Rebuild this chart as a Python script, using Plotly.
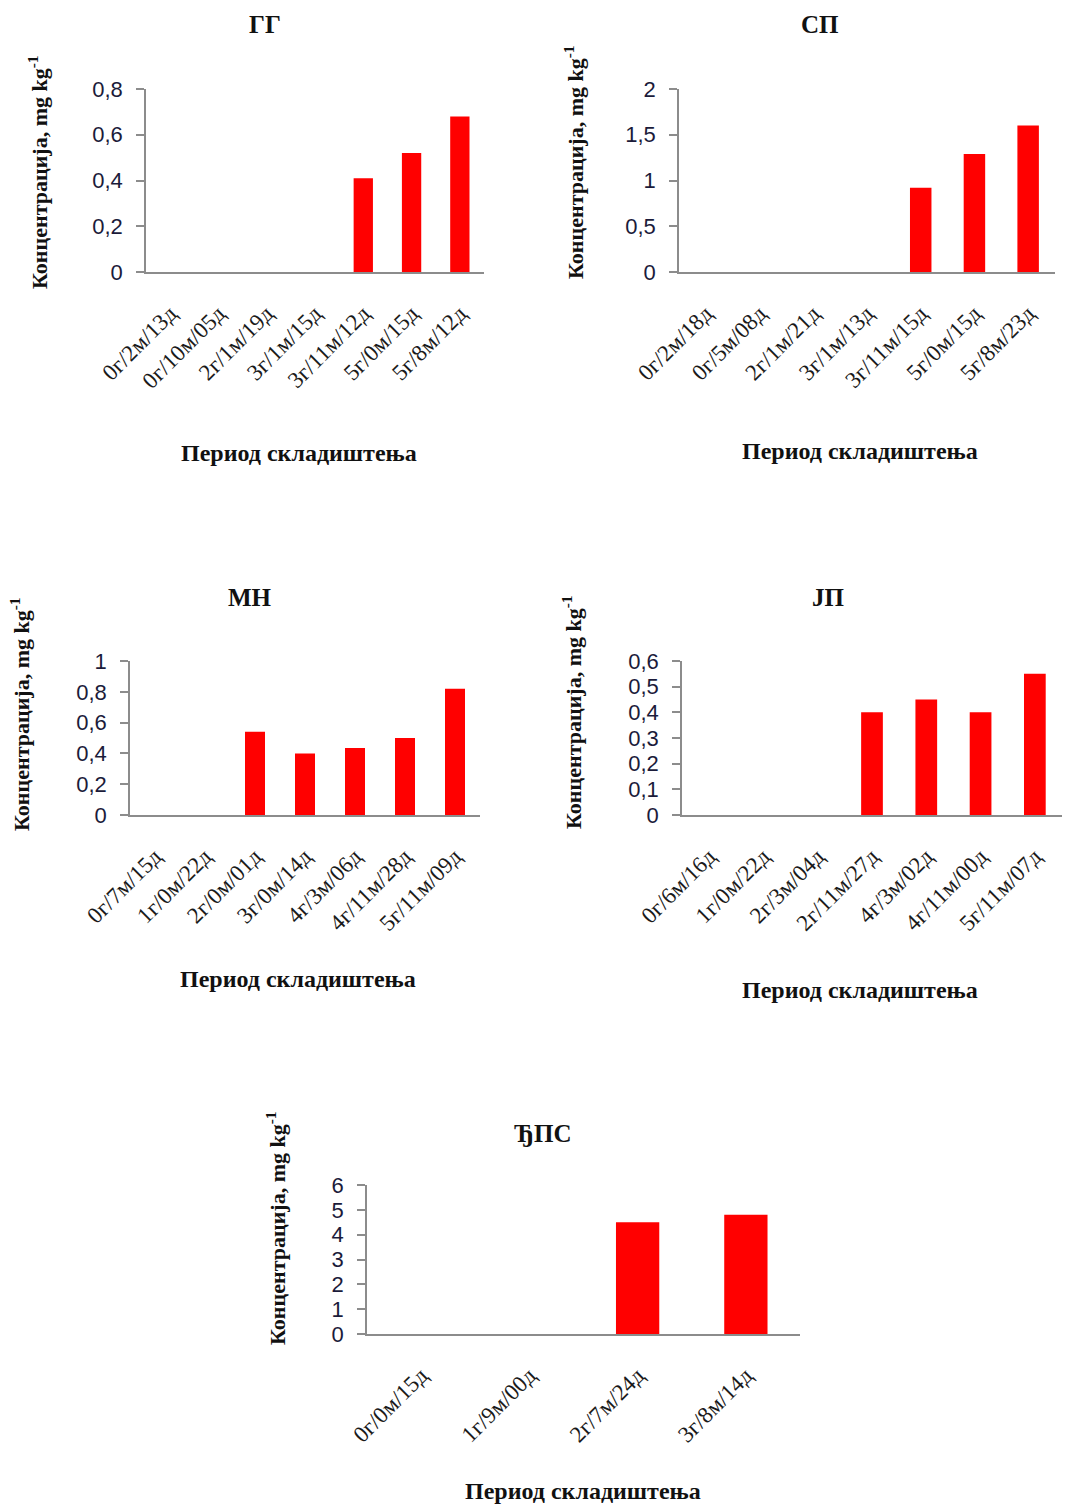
import plotly.graph_objects as go

# Storage-period categories and measured concentrations (mg/kg) per sample
gg_periods = ["0г/2м/13д", "0г/10м/05д", "2г/1м/19д", "3г/1м/15д", "3г/11м/12д", "5г/0м/15д", "5г/8м/12д"]
gg_values = [0, 0, 0, 0, 0.41, 0.52, 0.68]

sp_periods = ["0г/2м/18д", "0г/5м/08д", "2г/1м/21д", "3г/1м/13д", "3г/11м/15д", "5г/0м/15д", "5г/8м/23д"]
sp_values = [0, 0, 0, 0, 0.92, 1.29, 1.6]

mn_periods = ["0г/7м/15д", "1г/0м/22д", "2г/0м/01д", "3г/0м/14д", "4г/3м/06д", "4г/11м/28д", "5г/11м/09д"]
mn_values = [0, 0, 0.54, 0.40, 0.435, 0.5, 0.82]

jp_periods = ["0г/6м/16д", "1г/0м/22д", "2г/3м/04д", "2г/11м/27д", "4г/3м/02д", "4г/11м/00д", "5г/11м/07д"]
jp_values = [0, 0, 0, 0.40, 0.45, 0.40, 0.55]

dps_periods = ["0г/0м/15д", "1г/9м/00д", "2г/7м/24д", "3г/8м/14д"]
dps_values = [0, 0, 4.5, 4.8]

titles = ["ГГ", "СП", "МН", "ЈП", "ЂПС"]
y_ranges = [(0, 0.8), (0, 2), (0, 1), (0, 0.6), (0, 6)]
y_steps = [0.2, 0.5, 0.2, 0.1, 1]

W, H = 1066, 1506

# Plot-area boxes in pixels: (left, right, top, bottom)
boxes = [
    (146, 484, 89, 272),
    (679, 1055, 89, 272),
    (130, 480, 661, 815),
    (682, 1062, 661, 815),
    (367, 800, 1185, 1334),
]
# Text anchors in pixels
title_pos = [(265, 25), (820, 25), (250, 597), (828, 597), (543, 1133)]
ytitle_pos = [(38, 172), (574, 162), (20, 714), (572, 712), (276, 1228)]
xtitle_pos = [(299, 453), (860, 451), (298, 979), (860, 990), (583, 1491)]

series = [
    (gg_periods, gg_values),
    (sp_periods, sp_values),
    (mn_periods, mn_values),
    (jp_periods, jp_values),
    (dps_periods, dps_values),
]

SERIF = "Liberation Serif, Times New Roman, serif"
SANS = "Liberation Sans, Arial, sans-serif"
AXIS_GRAY = "#8c8c8c"

fig = go.Figure()
layout = dict(
    template="none",
    width=W,
    height=H,
    margin=dict(l=0, r=0, t=0, b=0, pad=0),
    paper_bgcolor="white",
    plot_bgcolor="white",
    showlegend=False,
    separators=",.",
)
annotations = []


def px_x(v):
    return v / W


def px_y(v):
    return 1 - v / H


for i, ((cats, vals), box) in enumerate(zip(series, boxes)):
    n = i + 1
    xa = "x" if n == 1 else f"x{n}"
    ya = "y" if n == 1 else f"y{n}"
    fig.add_trace(go.Bar(
        x=cats, y=vals, xaxis=xa, yaxis=ya,
        marker=dict(color="#ff0000", line=dict(width=0)),
        width=0.4,
    ))
    l, r, t, b = box
    layout[f"xaxis{'' if n == 1 else n}"] = dict(
        domain=[px_x(l), px_x(r)],
        anchor=ya,
        automargin=False,
        type="category",
        categoryorder="array",
        categoryarray=cats,
        showline=True, linecolor=AXIS_GRAY, linewidth=1.5,
        ticks="", showgrid=False, zeroline=False,
        tickangle=-45,
        tickfont=dict(family=SERIF, size=23, color="#1a1a1a"),
        ticklabelstandoff=17,
        fixedrange=True,
    )
    layout[f"yaxis{'' if n == 1 else n}"] = dict(
        domain=[px_y(b), px_y(t)],
        anchor=xa,
        automargin=False,
        range=list(y_ranges[i]),
        dtick=y_steps[i], tick0=0,
        showline=True, linecolor=AXIS_GRAY, linewidth=1.5,
        ticks="outside", ticklen=8, tickcolor=AXIS_GRAY, tickwidth=1.5,
        showgrid=False, zeroline=False,
        tickfont=dict(family=SANS, size=22, color="#1b1b3a"),
        ticklabelstandoff=9,
        fixedrange=True,
    )
    tx, ty = title_pos[i]
    annotations.append(dict(
        text=f"<b>{titles[i]}</b>", xref="paper", yref="paper",
        x=px_x(tx), y=px_y(ty), xanchor="center", yanchor="middle",
        showarrow=False, font=dict(family=SERIF, size=25, color="#111"),
    ))
    yx, yy = ytitle_pos[i]
    annotations.append(dict(
        text="<b>Концентрација, mg kg<sup>-1</sup></b>", xref="paper", yref="paper",
        x=px_x(yx), y=px_y(yy), xanchor="center", yanchor="middle",
        textangle=-90, showarrow=False,
        font=dict(family=SERIF, size=22, color="#111"),
    ))
    xx, xy = xtitle_pos[i]
    annotations.append(dict(
        text="<b>Период складиштења</b>", xref="paper", yref="paper",
        x=px_x(xx), y=px_y(xy), xanchor="center", yanchor="middle",
        showarrow=False, font=dict(family=SERIF, size=24, color="#111"),
    ))

layout["annotations"] = annotations
fig.update_layout(**layout)
fig.write_html("out.html")
